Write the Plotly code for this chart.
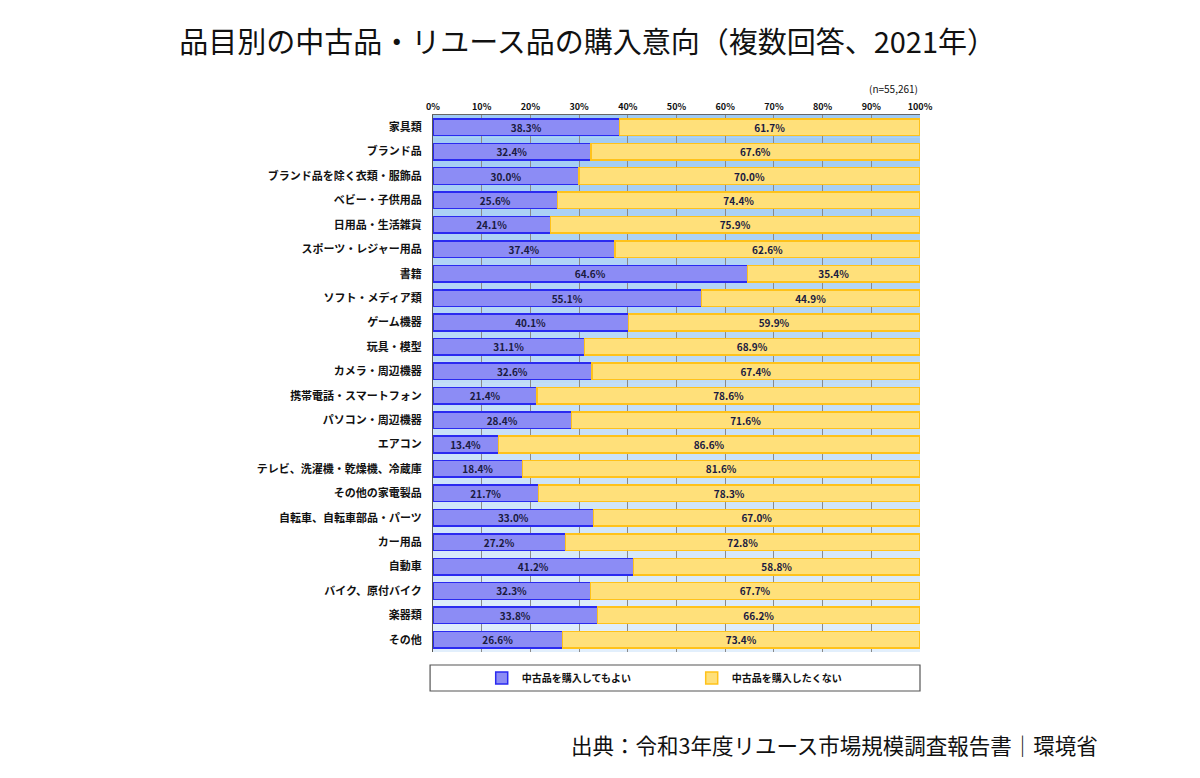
import plotly.graph_objects as go

categories = ["家具類", "ブランド品", "ブランド品を除く衣類・服飾品", "ベビー・子供用品", "日用品・生活雑貨",
              "スポーツ・レジャー用品", "書籍", "ソフト・メディア類", "ゲーム機器", "玩具・模型",
              "カメラ・周辺機器", "携帯電話・スマートフォン", "パソコン・周辺機器", "エアコン",
              "テレビ、洗濯機・乾燥機、冷蔵庫", "その他の家電製品", "自転車、自転車部品・パーツ",
              "カー用品", "自動車", "バイク、原付バイク", "楽器類", "その他"]
yes_vals = [38.3, 32.4, 30.0, 25.6, 24.1, 37.4, 64.6, 55.1, 40.1, 31.1, 32.6, 21.4, 28.4, 13.4,
            18.4, 21.7, 33.0, 27.2, 41.2, 32.3, 33.8, 26.6]
no_vals = [61.7, 67.6, 70.0, 74.4, 75.9, 62.6, 35.4, 44.9, 59.9, 68.9, 67.4, 78.6, 71.6, 86.6,
           81.6, 78.3, 67.0, 72.8, 58.8, 67.7, 66.2, 73.4]
series_names = ["中古品を購入してもよい", "中古品を購入したくない"]
tick_vals = list(range(0, 101, 10))
tick_text = [f"{v}%" for v in tick_vals]

FONT = "Noto Sans CJK JP"

fig = go.Figure()
fig.add_trace(go.Bar(
    y=categories, x=yes_vals, orientation="h", name=series_names[0],
    marker=dict(color="#8c8cf5", line=dict(color="#2a2af0", width=1.5)),
    text=[f"{v:.1f}%" for v in yes_vals], textposition="inside", insidetextanchor="middle",
    textfont=dict(family=FONT, size=10, color="#1a1a40", weight="bold"), width=0.68,
))
fig.add_trace(go.Bar(
    y=categories, x=no_vals, orientation="h", name=series_names[1],
    marker=dict(color="#ffe07a", line=dict(color="#ffc21a", width=1.5)),
    text=[f"{v:.1f}%" for v in no_vals], textposition="inside", insidetextanchor="middle",
    textfont=dict(family=FONT, size=10, color="#1a1a40", weight="bold"), width=0.68,
))

# gradient background strips
shapes = []
n = 24
c0 = (160, 203, 244)
c1 = (226, 239, 252)
for i in range(n):
    t = i / (n - 1)
    col = tuple(int(c0[k] + (c1[k] - c0[k]) * t) for k in range(3))
    shapes.append(dict(type="rect", xref="x domain", yref="y domain",
                       x0=0, x1=1, y0=1 - (i + 1) / n, y1=1 - i / n,
                       fillcolor=f"rgb{col}", line=dict(width=0), layer="below"))
# legend box
shapes.append(dict(type="rect", xref="paper", yref="paper", x0=-0.006, x1=1.0,
                   y0=-0.0726, y1=-0.0242, line=dict(color="#555", width=1.2),
                   fillcolor="white"))

fig.update_layout(
    width=1200, height=778,
    barmode="stack",
    paper_bgcolor="white", plot_bgcolor="#cfe5fb",
    margin=dict(l=425, r=288, t=107, b=134),
    font=dict(family=FONT, color="#111"),
    title=dict(text="品目別の中古品・リユース品の購入意向（複数回答、2021年）",
               x=0.483, xanchor="center", y=0.955, yanchor="middle",
               font=dict(size=29, color="#111", family=FONT)),
    xaxis=dict(range=[0, 100], side="top", tickvals=tick_vals, ticktext=tick_text,
               tickfont=dict(size=9, family=FONT, color="#111", weight="bold"),
               showgrid=True, gridcolor="#8a8a8a", gridwidth=1, zeroline=False,
               showline=True, linecolor="#666", mirror=False, ticks="", ticklen=0,
               automargin=False),
    yaxis=dict(autorange="reversed", tickfont=dict(size=11, family=FONT, color="#111", weight="bold"),
               showline=True, linecolor="#555", ticks="", ticklabelstandoff=8,
               automargin=False),
    shapes=shapes,
    showlegend=True,
    legend=dict(orientation="h", x=0.10, xanchor="left", y=-0.0484, yanchor="middle",
                bgcolor="rgba(0,0,0,0)", font=dict(size=10, family=FONT, color="#111", weight="bold"),
                entrywidth=165, itemwidth=30, traceorder="normal"),
    annotations=[
        dict(text="(n=55,261)", xref="paper", yref="paper", x=1.0, y=1.05,
             xanchor="right", yanchor="middle", showarrow=False,
             font=dict(size=10, family=FONT, color="#111")),
        dict(text="出典：令和3年度リユース市場規模調査報告書｜環境省", xref="paper", yref="paper",
             x=1.3696, y=-0.173, xanchor="right", yanchor="middle", showarrow=False,
             font=dict(size=21.5, family=FONT, color="#111")),
    ],
    uniformtext=dict(minsize=8, mode="show"),
)

fig.write_html("out.html")
